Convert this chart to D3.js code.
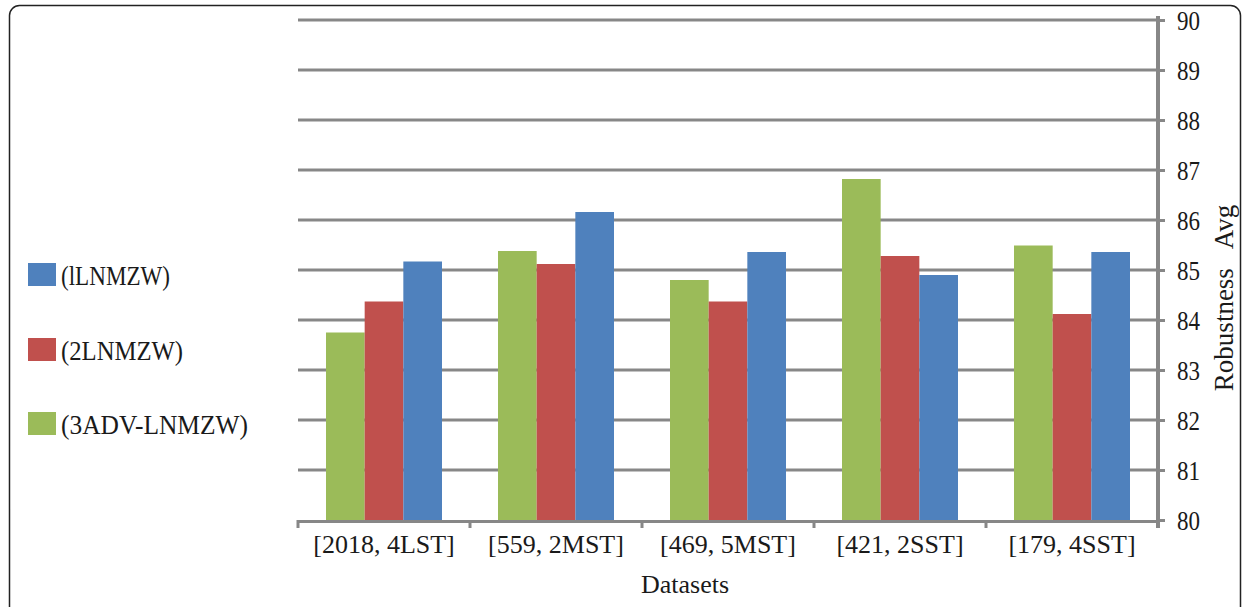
<!DOCTYPE html>
<html>
<head>
<meta charset="utf-8">
<script src="https://cdn.jsdelivr.net/npm/d3@7"></script>
<style>
  html, body { margin: 0; padding: 0; background: #fff; }
  svg { display: block; }
  text { font-family: "Liberation Serif", "Times New Roman", serif; fill: #1a1a1a; }
</style>
</head>
<body>
<svg id="chart" width="1245" height="607"></svg>
<script>
// Datasets on the x axis
const categories = ["[2018, 4LST]", "[559, 2MST]", "[469, 5MST]", "[421, 2SST]", "[179, 4SST]"];

// Series names (legend order) and colours
const seriesNames = ["(lLNMZW)", "(2LNMZW)", "(3ADV-LNMZW)"];
const seriesColors = ["#4F81BD", "#C0504D", "#9BBB59"];

// Average robustness per dataset
const lnmzw1 = [85.17, 86.16, 85.36, 84.90, 85.36];
const lnmzw2 = [84.37, 85.12, 84.37, 85.28, 84.12];
const advLnmzw3 = [83.75, 85.38, 84.80, 86.82, 85.49];

// Y axis ticks
const yTicks = [80, 81, 82, 83, 84, 85, 86, 87, 88, 89, 90];

const seriesValues = [lnmzw1, lnmzw2, advLnmzw3];
// Bars are drawn green, red, blue inside each group
const barOrder = [2, 1, 0];

const svg = d3.select("#chart");

// Outer frame
svg.append("rect")
  .attr("x", 9.5).attr("y", 5.5)
  .attr("width", 1231).attr("height", 620)
  .attr("rx", 10).attr("ry", 10)
  .attr("fill", "none").attr("stroke", "#222").attr("stroke-width", 1.5);

const plot = { left: 298, right: 1158, top: 20, bottom: 520 };

const x = d3.scaleBand().domain(categories).range([plot.left, plot.right]).paddingInner(0).paddingOuter(0);
const xInner = d3.scaleBand().domain(barOrder).range([28, x.bandwidth() - 28]).padding(0);
const y = d3.scaleLinear().domain([80, 90]).range([plot.bottom, plot.top]);

const gridColor = "#878787";

// Horizontal gridlines
svg.append("g").selectAll("line")
  .data(yTicks.filter(t => t > 80))
  .join("line")
  .attr("x1", plot.left).attr("x2", plot.right)
  .attr("y1", d => y(d)).attr("y2", d => y(d))
  .attr("stroke", gridColor).attr("stroke-width", 3);

// Bars
const groups = svg.append("g").selectAll("g")
  .data(categories)
  .join("g")
  .attr("transform", d => `translate(${x(d)},0)`);

groups.selectAll("rect")
  .data((c, i) => barOrder.map(s => ({ s, v: seriesValues[s][i] })))
  .join("rect")
  .attr("x", d => xInner(d.s))
  .attr("width", xInner.bandwidth())
  .attr("y", d => y(d.v))
  .attr("height", d => y(80) - y(d.v))
  .attr("fill", d => seriesColors[d.s]);

// Right value axis
const yAxis = d3.axisRight(y).tickValues(yTicks).tickSize(7).tickPadding(12).tickFormat(d3.format("d"));
const yg = svg.append("g").attr("transform", `translate(${plot.right},0)`).call(yAxis);
yg.select(".domain").attr("stroke", gridColor).attr("stroke-width", 4)
  .attr("d", `M0,${plot.top - 4}V${plot.bottom + 8}`);
yg.selectAll(".tick line").attr("stroke", gridColor).attr("stroke-width", 3).attr("x1", -2);
yg.selectAll(".tick text")
  .attr("font-size", 27).attr("fill", "#1a1a1a")
  .attr("font-family", "Liberation Serif, serif")
  .attr("textLength", 23).attr("lengthAdjust", "spacingAndGlyphs")
  .attr("dy", "0.36em");

// Bottom category axis with ticks at band boundaries
const xg = svg.append("g");
xg.append("line")
  .attr("x1", plot.left).attr("x2", plot.right)
  .attr("y1", plot.bottom + 1.5).attr("y2", plot.bottom + 1.5)
  .attr("stroke", gridColor).attr("stroke-width", 3);
const bounds = categories.map(c => x(c)).concat([x(categories[categories.length - 1]) + x.bandwidth()]);
xg.selectAll("line.tick")
  .data(bounds)
  .join("line")
  .attr("class", "tick")
  .attr("x1", d => d).attr("x2", d => d)
  .attr("y1", plot.bottom).attr("y2", plot.bottom + 8)
  .attr("stroke", gridColor).attr("stroke-width", 3);
xg.selectAll("text")
  .data(categories)
  .join("text")
  .attr("x", d => x(d) + x.bandwidth() / 2)
  .attr("y", 553)
  .attr("text-anchor", "middle")
  .attr("font-size", 26)
  .text(d => d);

// Axis titles
svg.append("text")
  .attr("x", 685).attr("y", 593)
  .attr("text-anchor", "middle")
  .attr("font-size", 26)
  .text("Datasets");

svg.append("text")
  .attr("transform", "translate(1233,298) rotate(-90)")
  .attr("text-anchor", "middle")
  .attr("font-size", 27)
  .style("white-space", "pre")
  .text("Robustness   Avg");

// Legend
const legendTop = [263, 338, 412];
const legendWidths = [109, 122, 187];
const legend = svg.append("g").selectAll("g")
  .data(seriesNames)
  .join("g")
  .attr("transform", (d, i) => `translate(28,${legendTop[i]})`);
legend.append("rect")
  .attr("width", 28).attr("height", 23)
  .attr("fill", (d, i) => seriesColors[i]);
legend.append("text")
  .attr("x", 33).attr("y", 22)
  .attr("font-size", 27)
  .attr("textLength", (d, i) => legendWidths[i])
  .attr("lengthAdjust", "spacingAndGlyphs")
  .text(d => d);
</script>
</body>
</html>
